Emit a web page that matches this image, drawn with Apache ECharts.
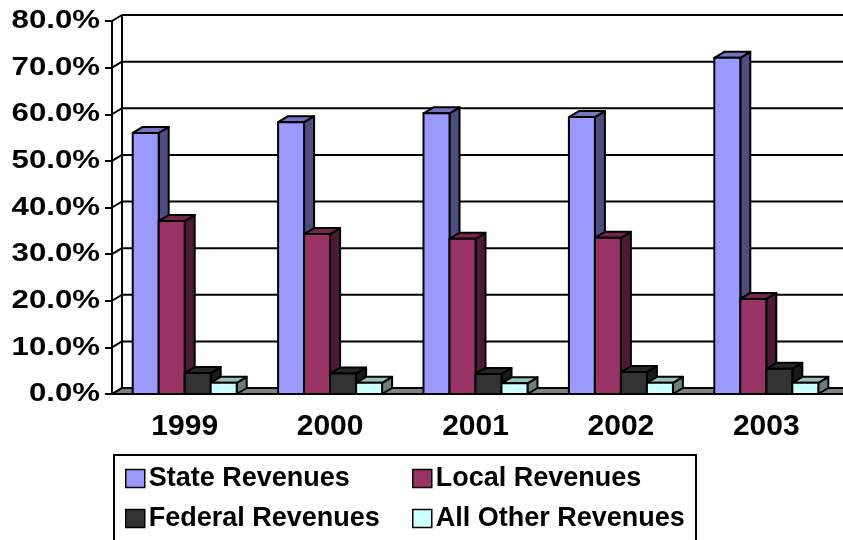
<!DOCTYPE html>
<html><head><meta charset="utf-8">
<script src="https://cdn.jsdelivr.net/npm/echarts@6/dist/echarts.min.js"></script>
<style>html,body{margin:0;padding:0;background:#fff}#c{width:843px;height:540px}</style>
</head><body><div id="c"></div>
<script>
const categories = ['1999', '2000', '2001', '2002', '2003'];
const stateRevenues = [56.0, 58.3, 60.2, 59.4, 72.1];
const localRevenues = [37.1, 34.3, 33.3, 33.5, 20.4];
const federalRevenues = [4.5, 4.4, 4.3, 4.7, 5.4];
const otherRevenues = [2.4, 2.4, 2.3, 2.4, 2.4];
const yTicks = [0, 10, 20, 30, 40, 50, 60, 70, 80];
const yTickLabels = ['0.0%', '10.0%', '20.0%', '30.0%', '40.0%', '50.0%', '60.0%', '70.0%', '80.0%'];
const seriesNames = ['State Revenues', 'Local Revenues', 'Federal Revenues', 'All Other Revenues'];
const seriesValues = [stateRevenues, localRevenues, federalRevenues, otherRevenues];

const frontColors = ['#9999FF', '#993366', '#333333', '#CCFFFF'];
const sideColors = ['#4D4D80', '#4D1A33', '#1A1A1A', '#668080'];
const topColors = ['#7373BF', '#73264D', '#262626', '#99BFBF'];
const DX = 10, DY = 6;
const LW = 2;

function barRender(k) {
  return function (params, api) {
    const i = api.value(0), v = api.value(1);
    const base = api.coord([i, 0]);
    const top = api.coord([i, v]);
    const band = api.size([1, 0])[0];
    const bw = band * 26 / 145.4;
    const left = base[0] + (k - 2) * bw;
    const right = left + bw;
    const yT = top[1], yB = base[1];
    const ls = { stroke: '#000', lineWidth: LW, lineJoin: 'round' };
    return {
      type: 'group',
      children: [
        { type: 'polygon', shape: { points: [[right, yT], [right + DX, yT - DY], [right + DX, yB - DY], [right, yB]] },
          style: Object.assign({ fill: sideColors[k] }, ls) },
        { type: 'polygon', shape: { points: [[left, yT], [left + DX, yT - DY], [right + DX, yT - DY], [right, yT]] },
          style: Object.assign({ fill: topColors[k] }, ls) },
        { type: 'rect', shape: { x: left, y: yT, width: bw, height: yB - yT },
          style: Object.assign({ fill: frontColors[k] }, ls) }
      ]
    };
  };
}

function frameRender(params, api) {
  const cs = params.coordSys;
  const gx = cs.x;
  const W = 843;
  const v = api.value(1);
  const y = api.coord([0, v])[1];
  const children = [];
  const ls = { stroke: '#000', lineWidth: LW };
  if (params.dataIndex === 0) {
    const yTop = cs.y;
    children.push({ type: 'line', shape: { x1: gx + DX, y1: yTop - DY, x2: gx + DX, y2: y - DY }, style: ls });
    children.push({ type: 'polygon', shape: { points: [[gx, y], [gx + DX, y - DY], [W + 20, y - DY], [W + 20, y]] },
      style: { fill: '#808080', stroke: '#000', lineWidth: LW } });
  } else {
    children.push({ type: 'line', shape: { x1: gx + DX, y1: y - DY, x2: W + 20, y2: y - DY }, style: ls });
  }
  children.push({ type: 'line', shape: { x1: gx, y1: y, x2: gx + DX, y2: y - DY }, style: ls });
  children.push({ type: 'text', x: gx - 12, y: y, scaleX: 1.2,
    style: { text: yTickLabels[params.dataIndex], align: 'right', verticalAlign: 'middle',
      font: 'bold 26px "Liberation Sans", Arial, sans-serif', fill: '#000' } });
  return { type: 'group', children: children };
}

const series = [{
  type: 'custom', name: 'frame', z: 1, silent: true,
  data: yTicks.map(v => [0, v]),
  encode: { x: 0, y: 1 },
  renderItem: frameRender
}];
seriesNames.forEach((n, k) => {
  series.push({
    type: 'custom', name: n, z: 2 + k,
    itemStyle: { color: frontColors[k] },
    data: seriesValues[k].map((v, i) => [i, v]),
    encode: { x: 0, y: 1 },
    renderItem: barRender(k)
  });
});

const legendText = { fontFamily: '"Liberation Sans", Arial, sans-serif', fontWeight: 'bold', fontSize: 27, color: '#000', padding: [0, 0, 0, -1] };
const legendPos = [[125, 465], [412, 465], [125, 505], [412, 505]];
const legends = seriesNames.map((n, k) => ({
  data: [n], left: legendPos[k][0], top: legendPos[k][1], padding: 0,
  itemWidth: 19, itemHeight: 18, icon: 'rect', itemGap: 0,
  itemStyle: { borderColor: '#000', borderWidth: 1.5 }, textStyle: legendText
}));

const chart = echarts.init(document.getElementById('c'));
chart.setOption({
  animation: false,
  backgroundColor: '#fff',
  grid: { left: 112, right: 4, top: 21, bottom: 146, containLabel: false },
  xAxis: {
    type: 'category', data: categories, boundaryGap: true,
    axisLine: { lineStyle: { color: '#000', width: LW } },
    axisTick: { length: 7, lineStyle: { color: '#000', width: LW } },
    axisLabel: { fontFamily: '"Liberation Sans", Arial, sans-serif', fontWeight: 'bold', fontSize: 30, color: '#000', margin: 18 },
    splitLine: { show: false }
  },
  yAxis: {
    type: 'value', min: 0, max: 80, interval: 10,
    axisLine: { show: true, lineStyle: { color: '#000', width: LW } },
    axisTick: { show: true, length: 7, lineStyle: { color: '#000', width: LW } },
    axisLabel: { show: false },
    splitLine: { show: false }
  },
  legend: legends,
  graphic: [
    { type: 'rect', shape: { x: 114, y: 455, width: 582, height: 120 }, style: { fill: 'none', stroke: '#000', lineWidth: 2 }, z: 10 }
  ],
  series: series
});
</script>
</body></html>
